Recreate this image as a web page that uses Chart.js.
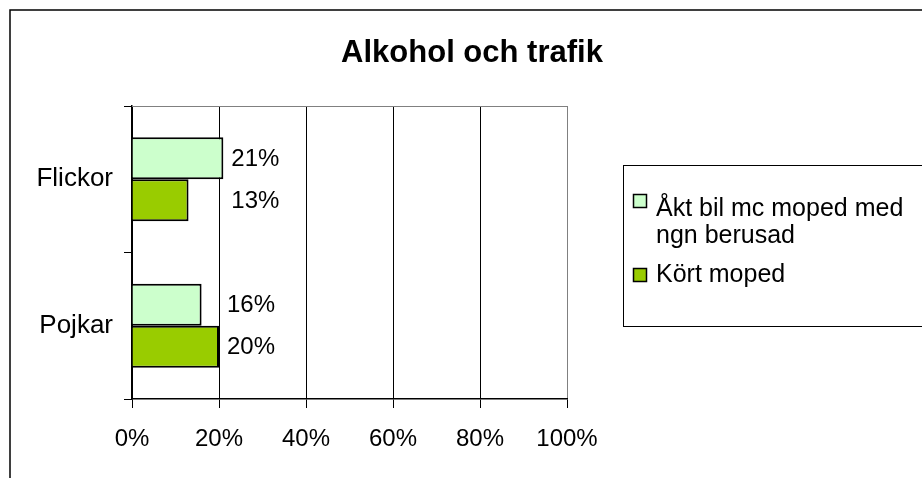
<!DOCTYPE html>
<html>
<head>
<meta charset="utf-8">
<script src="https://cdn.jsdelivr.net/npm/chart.js@4"></script>
<style>
  html, body { margin: 0; padding: 0; background: #fff; }
  #wrap { width: 922px; height: 478px; position: relative; }
</style>
</head>
<body>
<div id="wrap"><canvas id="c"></canvas></div>
<script>
// data
const categories = ['Flickor', 'Pojkar'];
const seriesNames = [['Åkt bil mc moped med', 'ngn berusad'], ['Kört moped']];
const aktBil = [21, 16];
const kortMoped = [13, 20];
const xTicks = [0, 20, 40, 60, 80, 100];
const title = 'Alkohol och trafik';

const colors = ['#CCFFCC', '#99CC00'];
const FONT = '"Liberation Sans", Arial, sans-serif';

// frame, title, top border, legend and value labels
const decor = {
  id: 'decor',
  afterDraw(chart) {
    const ctx = chart.ctx;
    const area = chart.chartArea;
    const xs = chart.scales.x;
    ctx.save();

    // outer frame (runs off the picture right and bottom)
    ctx.strokeStyle = '#000';
    ctx.lineWidth = 1.5;
    ctx.strokeRect(10, 10, 1000, 1000);

    // top border of the plot
    ctx.strokeStyle = '#808080';
    ctx.lineWidth = 1;
    ctx.beginPath();
    ctx.moveTo(area.left, area.top + 0.5);
    ctx.lineTo(area.right, area.top + 0.5);
    ctx.stroke();

    // title
    ctx.fillStyle = '#000';
    ctx.font = 'bold 31px ' + FONT;
    ctx.textAlign = 'center';
    ctx.textBaseline = 'middle';
    ctx.fillText(title, 472, 53);

    // value labels
    ctx.font = '24px ' + FONT;
    ctx.textAlign = 'left';
    categories.forEach((c, i) => {
      const vals = chart.data.datasets.map(d => d.data[i]);
      const x = xs.getPixelForValue(Math.max(...vals)) + 8;
      chart.data.datasets.forEach((d, di) => {
        const bar = chart.getDatasetMeta(di).data[i];
        ctx.fillText(d.data[i] + '%', x, bar.y + 1);
      });
    });

    // legend box
    ctx.strokeStyle = '#000';
    ctx.lineWidth = 1;
    ctx.strokeRect(623.5, 165.5, 400, 161);
    ctx.font = '25px ' + FONT;
    ctx.textBaseline = 'alphabetic';
    const rows = [[216, 243], [282]];
    const boxes = [194, 268];
    seriesNames.forEach((lines, si) => {
      ctx.fillStyle = colors[si];
      ctx.fillRect(633, boxes[si], 13, 13);
      ctx.lineWidth = 1.5;
      ctx.strokeRect(633.5, boxes[si] + 0.5, 13, 13);
      ctx.fillStyle = '#000';
      lines.forEach((t, li) => ctx.fillText(t, 656, rows[si][li]));
    });

    ctx.restore();
  }
};

new Chart(document.getElementById('c'), {
  type: 'bar',
  data: {
    labels: categories,
    datasets: [
      {
        label: seriesNames[0].join(' '),
        data: aktBil,
        backgroundColor: colors[0],
        borderColor: '#000',
        borderWidth: 2,
        categoryPercentage: 0.575,
        barPercentage: 1,
      },
      {
        label: seriesNames[1].join(' '),
        data: kortMoped,
        backgroundColor: colors[1],
        borderColor: '#000',
        borderWidth: 2,
        categoryPercentage: 0.575,
        barPercentage: 1,
      },
    ],
  },
  options: {
    indexAxis: 'y',
    responsive: true,
    maintainAspectRatio: false,
    animation: false,
    layout: { padding: { top: 106, right: 355, left: 0, bottom: 0 } },
    scales: {
      x: {
        min: 0,
        max: 100,
        afterBuildTicks: s => { s.ticks = xTicks.map(v => ({ value: v })); },
        afterFit: s => { s.height = 79; },
        ticks: {
          callback: v => v + '%',
          color: '#000',
          font: { family: FONT, size: 24 },
          padding: 17,
          maxRotation: 0,
        },
        grid: {
          color: c => (c.tick && c.tick.value === 100 ? '#808080' : '#000'),
          tickColor: '#000',
          tickLength: 9,
          lineWidth: 1,
        },
        border: { color: '#000', width: 1.5 },
      },
      y: {
        afterFit: s => { s.width = 132; },
        ticks: {
          color: '#000',
          font: { family: FONT, size: 26 },
          padding: 11,
        },
        grid: {
          offset: true,
          drawOnChartArea: false,
          color: '#000',
          tickLength: 8,
        },
        border: { color: '#000', width: 1.5 },
      },
    },
    plugins: {
      legend: { display: false },
      title: { display: false },
      tooltip: { enabled: false },
    },
  },
  plugins: [decor],
});
</script>
</body>
</html>
